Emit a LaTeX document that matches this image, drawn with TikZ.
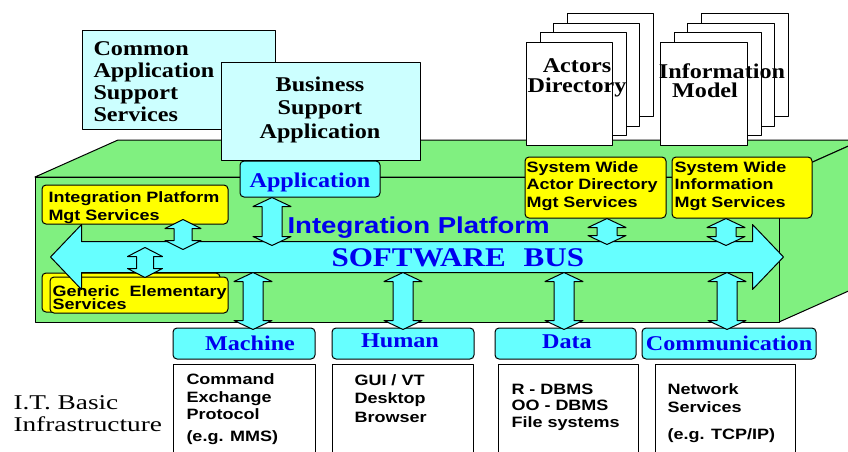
\documentclass[tikz,border=0pt]{standalone}
\usepackage{fontspec}
\usetikzlibrary{calc}
\newfontfamily\serifb[FakeStretch=1.15]{Liberation Serif}
\newfontfamily\serifw[FakeStretch=1.3]{Liberation Serif}
\newfontfamily\sansb[FakeStretch=1.2]{Liberation Sans}
\definecolor{xanhla}{RGB}{128,240,128}
\definecolor{xanhnhat}{RGB}{204,255,255}
\definecolor{xanhduong}{RGB}{102,255,255}
\definecolor{vang}{RGB}{255,255,0}
\definecolor{chuxanh}{RGB}{0,0,238}
%Mũi tên khối hai chiều
\newcommand{\muiten}[3][10]{%
  \path (#2) coordinate (mt-a) (#3) coordinate (mt-b);
  \filldraw[haichieu] (mt-a) -- ++(#1+9,9) -- ++(-9,0) -- ($(mt-b)+(#1,-9)$) -- ++(9,0) -- (mt-b) -- ++(-#1-9,-9) -- ++(9,0) -- ($(mt-a)+(-#1,9)$) -- ++(-9,0) -- cycle;}
\begin{document}
\begin{tikzpicture}[x=1pt,y=-1pt,line join=round,line width=1pt,
  sz/.style 2 args={inner sep=0,minimum width=#1pt,minimum height=#2pt},
  hopsang/.style={draw,fill=xanhnhat},
  hopnhan/.style={draw,fill=xanhduong,rounded corners=4pt},
  hopvang/.style={draw,fill=vang,rounded corners=4pt},
  hoptrang/.style={draw,fill=white},
  trang/.style={draw,fill=white},
  khoixanh/.style={draw,fill=xanhla},
  haichieu/.style={draw,fill=xanhduong},
  chuto/.style={inner sep=0,font=\serifb\bfseries\fontsize{21}{22}\selectfont},
  chunhan/.style={inner sep=0,anchor=base,text=chuxanh,font=\serifb\bfseries\fontsize{21}{22}\selectfont},
  chunho/.style={inner sep=0,anchor=base west,align=left,font=\sansb\bfseries\fontsize{15}{17.5}\selectfont}]
\useasboundingbox (0,0) rectangle (848,451);
\clip (0,0) rectangle (848,451);
\fill[white] (0,0) rectangle (848,451);
%Hộp Common Application
\node[hopsang,sz={193}{99}] (cass) at (178.5,79.5) {};
%Khối nền xanh
\filldraw[khoixanh] (35,177) -- (118,140) -- (862,140) -- (779,177) -- cycle;
\filldraw[khoixanh] (779,177) -- (862,140) -- (862,285) -- (779,322) -- cycle;
\filldraw[khoixanh] (35,177) rectangle (779,322);
%Hộp Business Support
\node[hopsang,sz={199}{98}] (bsa) at (320.5,111) {};
%Các chồng tài liệu
\foreach \dx/\dy in {41/-29,27/-19,14/-10}{
  \draw[trang] (526+\dx,42+\dy) rectangle ++(86,103);
  \draw[trang] (660+\dx,42+\dy) rectangle ++(87,103);}
\node[trang,sz={86}{103}] (actdir) at (569,93.5) {};
\node[trang,sz={87}{103}] (infmod) at (703.5,93.5) {};
%Hộp Application
\node[hopnhan,sz={140}{36}] (app) at (310,179) {};
%Các hộp dịch vụ vàng
\node[hopvang,sz={186}{39}] (ipms) at (135,204.5) {};
\node[hopvang,sz={178}{39}] (genb) at (131,292.5) {};
\node[hopvang,sz={178}{36}] (gen) at (139,295) {};
\node[hopvang,sz={141}{61}] (swad) at (595.5,187.5) {};
\node[hopvang,sz={140}{61}] (swim) at (742,187.5) {};
%Software bus
\node[sz={670}{30}] (bus) at (417,257) {};
\filldraw[haichieu] (bus.north west) -- (bus.north east) -- ++(0,-17) -- ($(bus.east)+(31,0)$) -- ($(bus.south east)+(0,17)$) -- (bus.south east) -- (bus.south west) -- ++(0,17) -- ($(bus.west)+(-31,0)$) -- ($(bus.north west)+(0,-17)$) -- cycle;
%Hạ tầng bên dưới
\node[hopnhan,sz={142}{31}] (mach) at (244,343.5) {};
\node[hopnhan,sz={142}{31}] (hum) at (403,343.5) {};
\node[hopnhan,sz={141}{31}] (data) at (565.5,343.5) {};
\node[hopnhan,sz={174}{31}] (comm) at (729,343.5) {};
\node[hoptrang,sz={142}{106}] (mach-b) at (244,417) {};
\node[hoptrang,sz={141}{106}] (hum-b) at (402.5,417) {};
\node[hoptrang,sz={140}{106}] (data-b) at (568,417) {};
\node[hoptrang,sz={140}{106}] (comm-b) at (725,417) {};
%Các mũi tên nối
\muiten{272,0 |- app.south}{$(272,0 |- bus.north)+(0,4)$}
\muiten[9]{$(183,0 |- ipms.south)+(0,-5)$}{$(183,0 |- bus.north)+(0,8)$}
\muiten[8.5]{$(145,0 |- bus.north)+(0,6)$}{$(145,0 |- gen.north)+(0,1)$}
\muiten{607,0 |- swad.south}{$(607,0 |- bus.north)+(0,3)$}
\muiten{726,0 |- swim.south}{$(726,0 |- bus.north)+(0,4)$}
\muiten{253,0 |- bus.south}{$(253,0 |- mach.north)+(0,2)$}
\muiten{403,0 |- bus.south}{$(403,0 |- hum.north)+(0,2)$}
\muiten{564,0 |- bus.south}{$(564,0 |- data.north)+(0,2)$}
\muiten{727,0 |- bus.south}{$(727,0 |- comm.north)+(0,2)$}
%Chữ (neo ở dòng cuối)
\node[chuto,anchor=base west,align=left] (cass-t) at (93,121) {Common\\Application\\Support\\Services};
\node[chuto,anchor=base,align=center,font=\serifb\bfseries\fontsize{21}{23.5}\selectfont] (bsa-t) at (320,138) {Business\\Support\\Application};
\node[chuto,anchor=base,align=center,font=\serifb\bfseries\fontsize{21}{20}\selectfont] (actdir-t) at (577,92) {Actors\\Directory};
\node[chuto,anchor=base,align=center,font=\serifb\bfseries\fontsize{21}{19}\selectfont] (infmod-t) at (722,97) {Information\\\hspace*{-34pt}Model};
\node[chunhan] (app-t) at (310,187) {Application};
\node[inner sep=0,anchor=base west,text=chuxanh,font=\sansb\bfseries\fontsize{23}{23}\selectfont] (ip-t) at (287,233) {Integration Platform};
\node[inner sep=0,anchor=base west,text=chuxanh,font=\serifb\bfseries\fontsize{27}{27}\selectfont] (bus-t) at (331,266) {SOFTWARE\hspace{18pt}BUS};
\node[chunho] (ipms-t) at (48,220) {Integration Platform\\Mgt Services};
\node[chunho] (gen-t) at (52,309) {Generic\ \ Elementary\\[-5pt]Services};
\node[chunho] (swad-t) at (526,207) {System Wide\\Actor Directory\\Mgt Services};
\node[chunho] (swim-t) at (674,207) {System Wide\\Information\\Mgt Services};
\node[chunhan] (mach-t) at (250,350) {Machine};
\node[chunhan] (hum-t) at (400,347) {Human};
\node[chunhan] (data-t) at (567,348) {Data};
\node[chunhan] (comm-t) at (729,350) {Communication};
\node[chunho] (mach-bt) at (186,441) {Command\\Exchange\\Protocol\\[4pt](e.g. MMS)};
\node[chunho,font=\sansb\bfseries\fontsize{15}{18.5}\selectfont] (hum-bt) at (354,422) {GUI / VT\\Desktop\\Browser};
\node[chunho,font=\sansb\bfseries\fontsize{15}{16.5}\selectfont] (data-bt) at (511,427) {R - DBMS\\OO - DBMS\\File systems};
\node[chunho,font=\sansb\bfseries\fontsize{15}{18}\selectfont] (comm-bt) at (667,439) {Network\\Services\\[9pt](e.g. TCP/IP)};
\node[inner sep=0,anchor=base west,align=left,font=\serifw\fontsize{21}{22}\selectfont] (itbi) at (13,431) {I.T. Basic\\Infrastructure};
\end{tikzpicture}
\end{document}
